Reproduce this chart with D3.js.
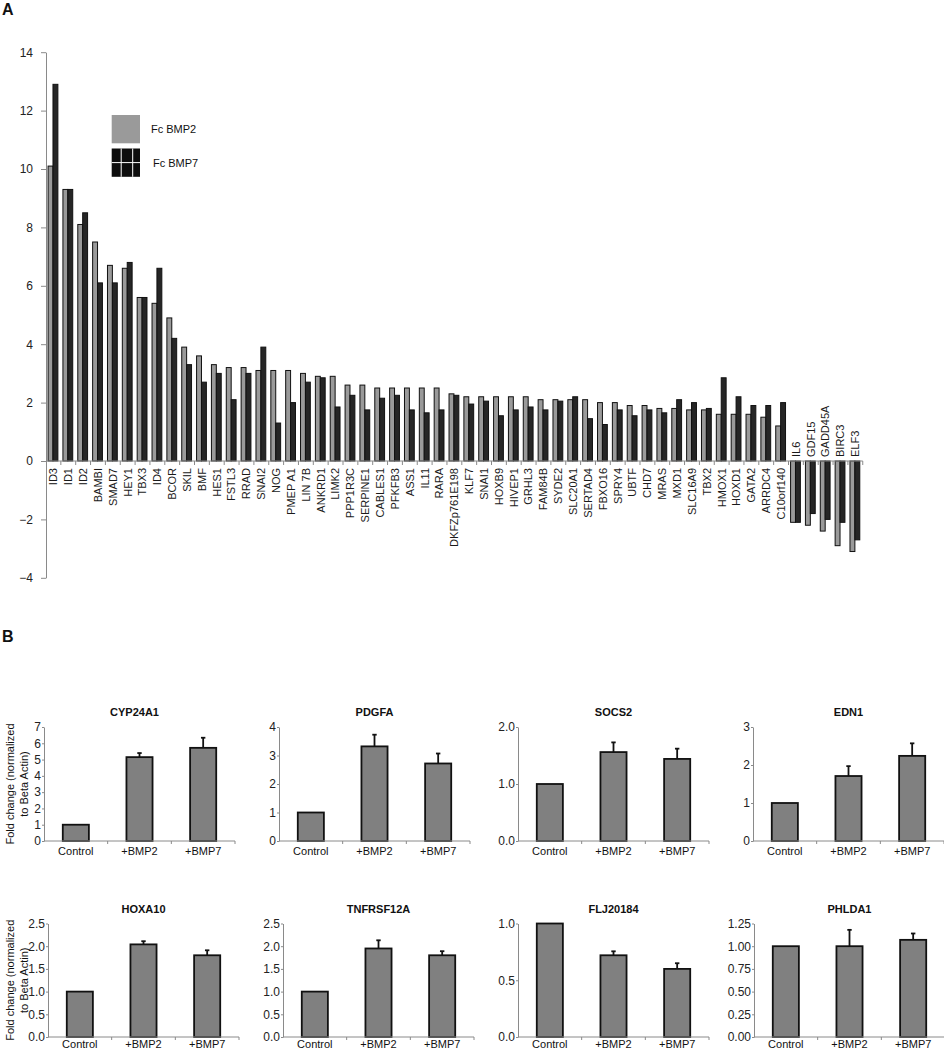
<!DOCTYPE html>
<html>
<head>
<meta charset="utf-8">
<script src="https://cdn.jsdelivr.net/npm/d3@7"></script>
<style>
  html, body { margin: 0; padding: 0; background: #fff; }
  svg { display: block; font-family: "Liberation Sans", Arial, sans-serif; }
</style>
</head>
<body>
<svg id="chart" width="944" height="1050"></svg>
<script>
// ---------- Panel A data ----------
const genes = ["ID3","ID1","ID2","BAMBI","SMAD7","HEY1","TBX3","ID4","BCOR","SKIL","BMF","HES1","FSTL3","RRAD","SNAI2","NOG","PMEP A1","LIN 7B","ANKRD1","LIMK2","PPP1R3C","SERPINE1","CABLES1","PFKFB3","ASS1","IL11","RARA","DKFZp761E198","KLF7","SNAI1","HOXB9","HIVEP1","GRHL3","FAM84B","SYDE2","SLC20A1","SERTAD4","FBXO16","SPRY4","UBTF","CHD7","MRAS","MXD1","SLC16A9","TBX2","HMOX1","HOXD1","GATA2","ARRDC4","C10orf140","IL6","GDF15","GADD45A","BIRC3","ELF3"];
const fcBMP2 = [10.1,9.3,8.1,7.5,6.7,6.6,5.6,5.4,4.9,3.9,3.6,3.3,3.2,3.2,3.1,3.1,3.1,3.0,2.9,2.9,2.6,2.6,2.5,2.5,2.5,2.5,2.5,2.3,2.2,2.2,2.2,2.2,2.2,2.1,2.1,2.1,2.1,2.0,2.0,1.9,1.9,1.8,1.8,1.75,1.75,1.6,1.6,1.6,1.5,1.2,-2.1,-2.2,-2.4,-2.9,-3.1];
const fcBMP7 = [12.9,9.3,8.5,6.1,6.1,6.8,5.6,6.6,4.2,3.3,2.7,3.0,2.1,3.0,3.9,1.3,2.0,2.7,2.85,1.85,2.25,1.75,2.15,2.25,1.75,1.65,1.75,2.25,1.95,2.05,1.55,1.75,1.85,1.75,2.05,2.2,1.45,1.25,1.75,1.55,1.75,1.65,2.1,2.0,1.8,2.85,2.2,1.9,1.9,2.0,-2.1,-1.8,-2.0,-2.1,-2.7];
const seriesNames = ["Fc BMP2","Fc BMP7"];
const yTicksA = [-4,-2,0,2,4,6,8,10,12,14];

// ---------- Panel B data ----------
const conditions = ["Control","+BMP2","+BMP7"];
const panelTitles = ["CYP24A1","PDGFA","SOCS2","EDN1","HOXA10","TNFRSF12A","FLJ20184","PHLDA1"];
const panelValues = [[1.0,5.15,5.72],[1.0,3.32,2.72],[1.0,1.56,1.44],[1.0,1.71,2.24],[1.0,2.04,1.80],[1.0,1.95,1.80],[1.0,0.72,0.60],[1.0,1.0,1.07]];
const panelErrors = [[0,0.25,0.62],[0,0.41,0.35],[0,0.17,0.18],[0,0.26,0.33],[0,0.07,0.11],[0,0.18,0.09],[0,0.035,0.05],[0,0.18,0.07]];
const panelTicks = [[0,1,2,3,4,5,6,7],[0,1,2,3,4],[0,1,2],[0,1,2,3],[0,0.5,1,1.5,2,2.5],[0,0.5,1,1.5,2,2.5],[0,0.5,1],[0,0.25,0.5,0.75,1,1.25]];
const panelTickFormats = ["d","d",".1f","d",".1f",".1f",".1f",".2f"];
const yLabelLines = ["Fold change (normalized","to Beta Actin)"];

const svg = d3.select("#chart");
const FONT = "'Liberation Sans', Arial, sans-serif";
const axisGray = "#8a8a8a";

// ================= Panel A =================
svg.append("text").attr("x", 2).attr("y", 15).attr("font-size", 16).attr("font-weight", "bold").attr("fill", "#111").text("A");

const xA = d3.scaleBand().domain(genes).range([46, 46 + genes.length * 14.85]).padding(0);
const bw = xA.bandwidth();
const subA = d3.scaleBand().domain(seriesNames).range([bw * 0.14, bw * 0.80]).padding(0);
const yA = d3.scaleLinear().domain([-4, 14]).range([577.8, 52.2]);

const gA = svg.append("g");
const rows = genes.map((g, i) => ({ gene: g, v: [fcBMP2[i], fcBMP7[i]] }));
const groups = gA.selectAll("g.gene").data(rows).join("g").attr("class", "gene")
  .attr("transform", d => `translate(${xA(d.gene)},0)`);
groups.selectAll("rect").data(d => d.v.map((v, k) => ({ s: seriesNames[k], v })))
  .join("rect")
  .attr("x", d => subA(d.s))
  .attr("width", subA.bandwidth())
  .attr("y", d => yA(Math.max(0, d.v)))
  .attr("height", d => Math.abs(yA(d.v) - yA(0)))
  .attr("fill", d => d.s === "Fc BMP2" ? "#9a9a9a" : "#262626")
  .attr("stroke", "#111").attr("stroke-width", 1);

// y axis
const yAxisA = d3.axisLeft(yA).tickValues(yTicksA).tickSize(5).tickSizeOuter(0).tickPadding(8);
const gy = svg.append("g").attr("transform", "translate(46,0)").call(yAxisA);
gy.select(".domain").attr("stroke", axisGray);
gy.selectAll(".tick line").attr("stroke", axisGray);
gy.selectAll(".tick text").attr("font-size", 12).attr("font-family", FONT).attr("fill", "#222");

// x axis line with category ticks
const gx = svg.append("g");
gx.append("line").attr("x1", xA.range()[0]).attr("x2", xA.range()[1]).attr("y1", yA(0)).attr("y2", yA(0)).attr("stroke", axisGray);
gx.selectAll("line.ct").data(genes).join("line").attr("class", "ct")
  .attr("x1", d => xA(d) + bw).attr("x2", d => xA(d) + bw)
  .attr("y1", yA(0)).attr("y2", yA(0) + 4).attr("stroke", axisGray);

// category labels
gA.selectAll("text.lab").data(rows).join("text").attr("class", "lab")
  .attr("transform", d => {
    const cx = xA(d.gene) + bw / 2;
    const neg = d.v[0] < 0;
    return `translate(${cx},${neg ? yA(0) - 4 : yA(0) + 7}) rotate(-90)`;
  })
  .attr("dy", "0.35em")
  .attr("text-anchor", d => d.v[0] < 0 ? "start" : "end")
  .attr("font-size", 11).attr("font-family", FONT).attr("fill", "#1a1a1a")
  .text(d => d.gene);

// legend
const lg = svg.append("g");
lg.append("rect").attr("x", 111.7).attr("y", 115).attr("width", 28.3).attr("height", 28.3).attr("fill", "#9a9a9a");
lg.append("text").attr("x", 151).attr("y", 133).attr("font-size", 11).attr("font-family", FONT).attr("fill", "#111").text(seriesNames[0]);
lg.append("rect").attr("x", 111.7).attr("y", 148.5).attr("width", 28.3).attr("height", 28.3).attr("fill", "#0d0d0d");
[121.2, 132.7].forEach(x => lg.append("line").attr("x1", x).attr("x2", x).attr("y1", 148.5).attr("y2", 176.8).attr("stroke", "#fff").attr("stroke-width", 1));
lg.append("line").attr("x1", 111.7).attr("x2", 140).attr("y1", 162.6).attr("y2", 162.6).attr("stroke", "#fff").attr("stroke-width", 1);
lg.append("text").attr("x", 153).attr("y", 166.5).attr("font-size", 11).attr("font-family", FONT).attr("fill", "#111").text(seriesNames[1]);

// ================= Panel B =================
svg.append("text").attr("x", 2).attr("y", 642).attr("font-size", 16).attr("font-weight", "bold").attr("fill", "#111").text("B");

const panelX0 = [44, 279, 518, 753, 48, 283, 518, 754];
const rowTop = [727, 923.5];
const rowBase = [841, 1037];
const rowLabelOffset = [14, 10.5];
const panelW = 191;

panelTitles.forEach((title, p) => {
  const r = p < 4 ? 0 : 1;
  const x0 = panelX0[p];
  const ticks = panelTicks[p];
  const yMax = ticks[ticks.length - 1];
  const y = d3.scaleLinear().domain([0, yMax]).range([rowBase[r], rowTop[r]]);
  const x = d3.scaleBand().domain(conditions).range([x0, x0 + panelW]).paddingInner(0.59).paddingOuter(0.295);
  const g = svg.append("g");

  const data = conditions.map((c, i) => ({ c, v: panelValues[p][i], e: panelErrors[p][i] }));
  data.filter(d => d.e > 0).forEach(d => {
    const cx = x(d.c) + x.bandwidth() / 2;
    g.append("line").attr("x1", cx).attr("x2", cx).attr("y1", y(d.v)).attr("y2", y(d.v + d.e)).attr("stroke", "#111").attr("stroke-width", 1.8);
    g.append("line").attr("x1", cx - 2.2).attr("x2", cx + 2.2).attr("y1", y(d.v + d.e)).attr("y2", y(d.v + d.e)).attr("stroke", "#111").attr("stroke-width", 1.8);
  });
  g.selectAll("rect").data(data).join("rect")
    .attr("x", d => x(d.c)).attr("width", x.bandwidth())
    .attr("y", d => y(d.v)).attr("height", d => y(0) - y(d.v))
    .attr("fill", "#808080").attr("stroke", "#111").attr("stroke-width", 1.8);

  const ya = d3.axisLeft(y).tickValues(ticks).tickFormat(d3.format(panelTickFormats[p])).tickSize(2).tickSizeOuter(0).tickPadding(1);
  const gy2 = svg.append("g").attr("transform", `translate(${x0},0)`).call(ya);
  gy2.select(".domain").attr("stroke", axisGray);
  gy2.selectAll(".tick line").attr("stroke", axisGray);
  gy2.selectAll(".tick text").attr("font-size", 12).attr("font-family", FONT).attr("fill", "#222");

  svg.append("line").attr("x1", x0).attr("x2", x0 + panelW).attr("y1", y(0)).attr("y2", y(0)).attr("stroke", axisGray);
  [1, 2, 3].forEach(k => {
    const bx = x0 + k * x.step();
    svg.append("line").attr("x1", bx).attr("x2", bx).attr("y1", y(0)).attr("y2", y(0) + 3).attr("stroke", axisGray);
  });
  g.selectAll("text.xl").data(conditions).join("text").attr("class", "xl")
    .attr("x", d => x(d) + x.bandwidth() / 2).attr("y", y(0) + rowLabelOffset[r])
    .attr("text-anchor", "middle").attr("font-size", 11).attr("font-family", FONT).attr("fill", "#111").text(d => d);

  svg.append("text").attr("x", x0 + panelW / 2 - (p === 0 ? 5 : 0)).attr("y", rowTop[r] - 11)
    .attr("text-anchor", "middle").attr("font-size", 11).attr("font-weight", "bold").attr("font-family", FONT).attr("fill", "#111").text(title);

  if (p % 4 === 0) {
    const mid = (rowTop[r] + rowBase[r]) / 2;
    [10.5, 24.3].forEach((cx, li) => {
      svg.append("text").attr("transform", `translate(${cx},${mid}) rotate(-90)`)
        .attr("dy", "0.35em").attr("text-anchor", "middle")
        .attr("font-size", 11).attr("font-family", FONT).attr("fill", "#111").text(yLabelLines[li]);
    });
  }
});
</script>
</body>
</html>
